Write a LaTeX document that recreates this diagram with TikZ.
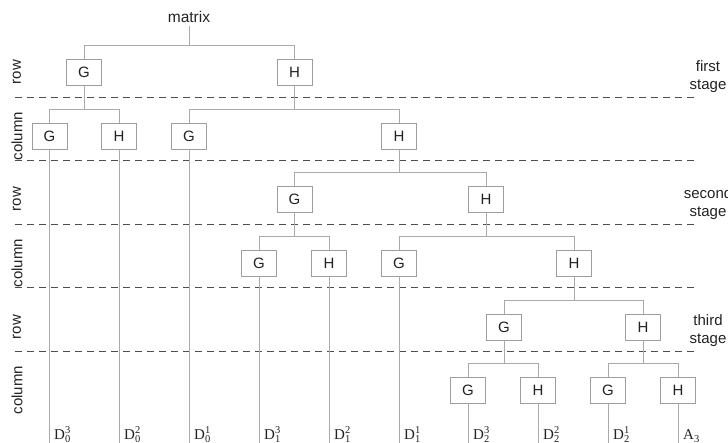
\documentclass[tikz,border=0pt]{standalone}
\usepackage{fontspec}
\setmainfont{Liberation Sans}
\newfontfamily\seriffont{Liberation Serif}
\usepackage{xcolor}
\usepackage{tikz}
\usetikzlibrary{positioning}
\definecolor{boxcolor}{HTML}{9E9E9E}
\definecolor{linkcolor}{HTML}{AAAAAA}
\definecolor{stagecolor}{HTML}{4E4E4E}
\definecolor{textcolor}{HTML}{222222}
\newcommand{\outsup}[1]{\raisebox{6pt}{\fontsize{10.5}{11}\selectfont #1}}
\newcommand{\outsub}[1]{\raisebox{-3.6pt}{\fontsize{10.5}{11}\selectfont #1}}
\newcommand{\outlabel}[3]{#1\rlap{\outsup{#2}}\outsub{#3}}

\begin{document}
\begin{tikzpicture}[x=1pt, y=-1pt, text=textcolor,
  box/.style={rectangle, draw=boxcolor, line width=0.9pt, fill=white, minimum width=35pt, minimum height=26pt, inner sep=0pt, font=\fontsize{15}{18}\selectfont},
  link/.style={draw=linkcolor, line width=1pt},
  stageline/.style={draw=stagecolor, line width=1.5pt, dash pattern=on 7pt off 5pt},
  side/.style={rotate=90, font=\fontsize{15}{18}\selectfont},
  stagelabel/.style={align=center, anchor=south, inner sep=0pt, font=\fontsize{15}{18}\selectfont},
  leaf/.style={anchor=base west, inner sep=0pt, font=\seriffont\fontsize{15}{17}\selectfont}]

  \useasboundingbox (0,0) rectangle (728,443);
  \coordinate (bottom) at (0,443);

  % Stage separators
  \draw[stageline] (15,97.5) -- (695,97.5);
  \draw[stageline] (15,160.5) -- (695,160.5);
  \draw[stageline] (15,224.5) -- (695,224.5);
  \draw[stageline] (15,287.5) -- (695,287.5);
  \draw[stageline] (15,351.5) -- (695,351.5);

  % Side labels
  \node[side] (r1) at (17,72) {row};
  \node[side] (c1) at (17,136) {column};
  \node[side] (r2) at (17,199) {row};
  \node[side] (c2) at (17,263) {column};
  \node[side] (r3) at (17,327) {row};
  \node[side] (c3) at (17,390) {column};

  \node[stagelabel] (st1) at (708,93) {first\\stage};
  \node[stagelabel] (st2) at (708,219.5) {second\\stage};
  \node[stagelabel] (st3) at (708,347) {third\\stage};

  % Root
  \node[font=\fontsize{15.5}{18}\selectfont] (mat) at (189,17) {matrix};

  % First stage
  \node[box] (G1) at (84,72) {G};
  \node[box] (H1) at (294.5,72) {H};
  \node[box] (GA) at (49.5,136) {G};
  \node[box] (HA) at (119,136) {H};
  \node[box] (GB) at (189,136) {G};
  \node[box] (HB) at (399,136) {H};

  % Second stage
  \node[box] (G2) at (294.5,199) {G};
  \node[box] (H2) at (486,199) {H};
  \node[box] (GC) at (259,263) {G};
  \node[box] (HC) at (329,263) {H};
  \node[box] (GD) at (399,263) {G};
  \node[box] (HD) at (574,263) {H};

  % Third stage
  \node[box] (G3) at (504,327) {G};
  \node[box] (H3) at (643,327) {H};
  \node[box] (GE) at (468,390) {G};
  \node[box] (HE) at (538,390) {H};
  \node[box] (GF) at (608,390) {G};
  \node[box] (HF) at (678,390) {H};

  % Tree links
  \draw[link] (G1.north) -- ++(0,-13) -| (mat.south);
  \draw[link] (H1.north) -- ++(0,-13) -| (mat.south);
  \draw[link] (GA.north) -- ++(0,-13) -| (G1.south);
  \draw[link] (HA.north) -- ++(0,-13) -| (G1.south);
  \draw[link] (GB.north) -- ++(0,-13) -| (H1.south);
  \draw[link] (HB.north) -- ++(0,-13) -| (H1.south);
  \draw[link] (G2.north) -- ++(0,-13) -| (HB.south);
  \draw[link] (H2.north) -- ++(0,-13) -| (HB.south);
  \draw[link] (GC.north) -- ++(0,-13) -| (G2.south);
  \draw[link] (HC.north) -- ++(0,-13) -| (G2.south);
  \draw[link] (GD.north) -- ++(0,-13) -| (H2.south);
  \draw[link] (HD.north) -- ++(0,-13) -| (H2.south);
  \draw[link] (G3.north) -- ++(0,-13) -| (HD.south);
  \draw[link] (H3.north) -- ++(0,-13) -| (HD.south);
  \draw[link] (GE.north) -- ++(0,-13) -| (G3.south);
  \draw[link] (HE.north) -- ++(0,-13) -| (G3.south);
  \draw[link] (GF.north) -- ++(0,-13) -| (H3.south);
  \draw[link] (HF.north) -- ++(0,-13) -| (H3.south);

  % Outputs
  \draw[link] (GA.south) -- (GA.south |- bottom);
  \draw[link] (HA.south) -- (HA.south |- bottom);
  \draw[link] (GB.south) -- (GB.south |- bottom);
  \draw[link] (GC.south) -- (GC.south |- bottom);
  \draw[link] (HC.south) -- (HC.south |- bottom);
  \draw[link] (GD.south) -- (GD.south |- bottom);
  \draw[link] (GE.south) -- (GE.south |- bottom);
  \draw[link] (HE.south) -- (HE.south |- bottom);
  \draw[link] (GF.south) -- (GF.south |- bottom);
  \draw[link] (HF.south) -- (HF.south |- bottom);

  \node[leaf] (dGA) at (54,439) {\outlabel{D}{3}{0}};
  \node[leaf] (dHA) at (124,439) {\outlabel{D}{2}{0}};
  \node[leaf] (dGB) at (194,439) {\outlabel{D}{1}{0}};
  \node[leaf] (dGC) at (264,439) {\outlabel{D}{3}{1}};
  \node[leaf] (dHC) at (334,439) {\outlabel{D}{2}{1}};
  \node[leaf] (dGD) at (404,439) {\outlabel{D}{1}{1}};
  \node[leaf] (dGE) at (473,439) {\outlabel{D}{3}{2}};
  \node[leaf] (dHE) at (543,439) {\outlabel{D}{2}{2}};
  \node[leaf] (dGF) at (613,439) {\outlabel{D}{1}{2}};
  \node[leaf] (dHF) at (683,439) {A\outsub{3}};

\end{tikzpicture}
\end{document}
